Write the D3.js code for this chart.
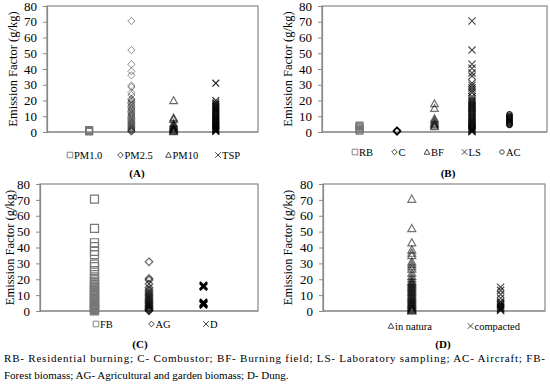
<!DOCTYPE html>
<html>
<head>
<meta charset="utf-8">
<script src="https://cdn.jsdelivr.net/npm/d3@7"></script>
<style>
  body { margin: 0; background: #fff; }
  svg { display: block; }
  text { font-family: 'Liberation Serif'; }
</style>
</head>
<body>
<svg id="chart" width="550" height="384"></svg>
<script>
// data {{{ //

const yTicks = [0, 10, 20, 30, 40, 50, 60, 70, 80];

// (A) particle size
const catsA = ["PM1.0", "PM2.5", "PM10", "TSP"];
const pm1Vals = [0.2, 0.5, 0.8, 1.1, 1.4];
const pm25Vals = [70.5, 52, 43, 38.5, 36, 29.5, 28.5, 25, 23.5, 21, 20.5, 19.6, 18.8, 18, 17.1, 16.3, 15.4, 14.6, 13.8, 13, 12.2, 11.5, 10.7, 10, 9.2, 8.6, 7.9, 7.2, 6.5, 5.9, 5.3, 4.6, 4, 3.4, 2.8, 2.3, 1.8, 1.3, 0.9, 0.5, 0.2];
const pm10Vals = [20, 9, 8, 5.5, 4.5, 3.8, 3, 2.4, 1.8, 1.2, 0.7, 0.3];
const tspVals = [31, 20, 18.5, 17.5, 16.5, 15.6, 14.8, 13.9, 13, 12.2, 11.3, 10.5, 9.7, 8.8, 8, 7.2, 6.4, 5.6, 4.9, 4.2, 3.5, 2.9, 2.3, 1.7, 1.2, 0.7, 0.3];

// (B) sampling method
const catsB = ["RB", "C", "BF", "LS", "AC"];
const rbVals = [0.8, 1.5, 2.2, 2.9, 3.6, 4.2];
const cVals = [0.3, 0.6, 0.9];
const bfVals = [18, 15, 8.5, 7.5, 6.5, 5.5, 4.8, 4, 3.4];
const lsVals = [70.5, 52, 43, 40.5, 37.5, 35.5, 31, 29.5, 28, 26.5, 25, 22.5, 21, 20, 19.2, 18.3, 17.5, 16.6, 15.8, 15, 14.1, 13.3, 12.5, 11.6, 10.8, 10, 9.2, 8.4, 7.6, 6.9, 6.1, 5.4, 4.7, 4, 3.3, 2.7, 2.1, 1.5, 1, 0.5, 0.1];
const acVals = [11.2, 10.3, 9.5, 8.8, 8, 7.2, 6.5, 5.8, 5, 4.5];

// (C) fuel type
const catsC = ["FB", "AG", "D"];
const fbVals = [70.5, 52, 43, 40.5, 37.5, 35.5, 29.5, 28, 25.5, 23, 21.5, 20, 18.8, 17.5, 16.6, 15.7, 14.8, 13.9, 13, 12.1, 11.2, 10.4, 9.6, 8.8, 8, 7.2, 6.4, 5.6, 4.9, 4.2, 3.5, 2.8, 2.2, 1.6, 1, 0.5, 0.1];
const agVals = [31, 20.5, 19.5, 17, 14.8, 13.5, 12.5, 11.5, 10.6, 9.7, 8.9, 8.1, 7.3, 6.6, 5.9, 5.2, 4.5, 3.8, 3.2, 2.6, 2, 1.4, 0.9, 0.4, 0.1];
const dVals = [16, 15.3, 5.2, 4.6, 4];

// (D) biomass state
const catsD = ["in natura", "compacted"];
const naturaVals = [70.5, 52, 43, 38.5, 36.5, 35, 31, 29.5, 28, 26.5, 24, 22, 20.5, 19, 18.2, 17.4, 16.6, 15.8, 15, 14.2, 13.4, 12.6, 11.8, 11, 10.2, 9.5, 8.7, 8, 7.3, 6.6, 5.9, 5.2, 4.5, 3.9, 3.3, 2.7, 2.1, 1.5, 1, 0.5, 0.1];
const compactedVals = [15, 13, 10.5, 8, 6, 5.2, 4.5, 3.8, 3.1, 2.5, 1.9, 1.3, 0.8, 0.3];

const captionLines = [
  "RB- Residential burning; C- Combustor; BF- Burning field; LS- Laboratory sampling; AC- Aircraft; FB-",
  "Forest biomass; AG- Agricultural and garden biomass; D- Dung."
];

// }}} data //

const FONT = "Liberation Serif";
const svg = d3.select("#chart").attr("font-family", FONT);

// marker paths {{{ //
function markerPath(shape, r) {
  const p = d3.path();
  if (shape === "square") {
    p.rect(-r, -r, 2 * r, 2 * r);
  } else if (shape === "diamond") {
    p.moveTo(0, -r); p.lineTo(r, 0); p.lineTo(0, r); p.lineTo(-r, 0); p.closePath();
  } else if (shape === "triangle") {
    p.moveTo(0, -r); p.lineTo(r, r * 0.8); p.lineTo(-r, r * 0.8); p.closePath();
  } else if (shape === "cross") {
    p.moveTo(-r, -r); p.lineTo(r, r); p.moveTo(r, -r); p.lineTo(-r, r);
  } else if (shape === "circle") {
    p.arc(0, 0, r * 0.8, 0, 2 * Math.PI);
  }
  return p.toString();
}
// }}} marker paths //

const panels = [
  {
    label: "(A)", left: 47, right: 258, top: 6, bottom: 132, xMax: 5, yLabelX: 13,
    titleX: 137, titleY: 177, legendY: 155,
    series: [
      { name: catsA[0], vals: pm1Vals, shape: "square", color: "#777", op: 1, sw: 1.2, r: 3.3, lx: 70 },
      { name: catsA[1], vals: pm25Vals, shape: "diamond", color: "#000", op: 0.45, sw: 1, r: 3.6, lx: 120.5 },
      { name: catsA[2], vals: pm10Vals, shape: "triangle", color: "#000", op: 0.6, sw: 1.2, r: 3.8, lx: 168.5 },
      { name: catsA[3], vals: tspVals, shape: "cross", color: "#000", op: 0.85, sw: 1.2, r: 3.4, lx: 218 }
    ]
  },
  {
    label: "(B)", left: 322, right: 547, top: 6, bottom: 132, xMax: 6, yLabelX: 288,
    titleX: 448, titleY: 177, legendY: 152,
    series: [
      { name: catsB[0], vals: rbVals, shape: "square", color: "#777", op: 1, sw: 1.2, r: 3.3, lx: 355 },
      { name: catsB[1], vals: cVals, shape: "diamond", color: "#000", op: 0.85, sw: 1.2, r: 3.6, lx: 394.5 },
      { name: catsB[2], vals: bfVals, shape: "triangle", color: "#000", op: 0.55, sw: 1.2, r: 3.8, lx: 427 },
      { name: catsB[3], vals: lsVals, shape: "cross", color: "#000", op: 0.7, sw: 1.2, r: 3.6, lx: 464.5 },
      { name: catsB[4], vals: acVals, shape: "circle", color: "#000", op: 0.85, sw: 1.2, r: 3.4, lx: 502 }
    ]
  },
  {
    label: "(C)", left: 40, right: 258, top: 184, bottom: 311, xMax: 4, yLabelX: 10,
    titleX: 140, titleY: 348, legendY: 324,
    series: [
      { name: catsC[0], vals: fbVals, shape: "square", color: "#777", op: 1, sw: 1.2, r: 4, lx: 96 },
      { name: catsC[1], vals: agVals, shape: "diamond", color: "#000", op: 0.6, sw: 1.2, r: 3.8, lx: 151.5 },
      { name: catsC[2], vals: dVals, shape: "cross", color: "#000", op: 1, sw: 2.2, r: 3.6, lx: 206 }
    ]
  },
  {
    label: "(D)", left: 323, right: 545, top: 184, bottom: 311, xMax: 2.5, yLabelX: 288,
    titleX: 443, titleY: 348, legendY: 326,
    series: [
      { name: catsD[0], vals: naturaVals, shape: "triangle", color: "#000", op: 0.55, sw: 1.2, r: 4, lx: 391 },
      { name: catsD[1], vals: compactedVals, shape: "cross", color: "#000", op: 0.7, sw: 1.2, r: 3.6, lx: 470.5 }
    ]
  }
];

panels.forEach(function(pn) {
  const x = d3.scaleLinear().domain([0, pn.xMax]).range([pn.left, pn.right]);
  const y = d3.scaleLinear().domain([0, 80]).range([pn.bottom, pn.top]);
  const g = svg.append("g");

  // plot frame
  g.append("rect")
    .attr("x", pn.left).attr("y", pn.top)
    .attr("width", pn.right - pn.left).attr("height", pn.bottom - pn.top)
    .attr("fill", "none").attr("stroke", "#888").attr("stroke-width", 1.2);

  // y axis
  const ax = g.append("g")
    .attr("transform", "translate(" + pn.left + ",0)")
    .call(d3.axisLeft(y).tickValues(yTicks).tickSize(4).tickPadding(6))
    .attr("font-family", FONT)
    .attr("font-size", 13);
  ax.select(".domain").attr("stroke", "#888").attr("stroke-width", 1.2);
  ax.selectAll(".tick line").attr("stroke", "#888");
  ax.selectAll(".tick text").attr("fill", "#000");

  // x baseline
  g.append("line")
    .attr("x1", pn.left).attr("x2", pn.right)
    .attr("y1", y(0)).attr("y2", y(0))
    .attr("stroke", "#888").attr("stroke-width", 1.2);

  // y label
  g.append("text")
    .attr("transform", "translate(" + pn.yLabelX + "," + ((pn.top + pn.bottom) / 2) + ") rotate(-90)")
    .attr("text-anchor", "middle").attr("dy", "0.35em")
    .attr("font-family", FONT)
    .attr("font-size", 12.5)
    .text("Emission Factor (g/kg)");

  // points
  pn.series.forEach(function(s, i) {
    const cx = x(i + 1);
    g.append("g").selectAll("path")
      .data(s.vals.slice().reverse())
      .enter().append("path")
      .attr("transform", d => "translate(" + cx + "," + y(d) + ")")
      .attr("d", markerPath(s.shape, s.r))
      .attr("fill", "none")
      .attr("stroke", s.color)
      .attr("stroke-opacity", s.op)
      .attr("stroke-width", s.sw);

    // legend entry
    g.append("path")
      .attr("transform", "translate(" + s.lx + "," + pn.legendY + ")")
      .attr("d", markerPath(s.shape, 2.8))
      .attr("fill", "none")
      .attr("stroke", s.shape === "square" ? "#777" : "#333")
      .attr("stroke-width", 0.9);
    g.append("text")
      .attr("x", s.lx + 4).attr("y", pn.legendY)
      .attr("dy", "0.35em")
      .attr("font-family", FONT)
      .attr("font-size", 10.5)
      .text(s.name);
  });

  // panel title
  g.append("text")
    .attr("x", pn.titleX).attr("y", pn.titleY)
    .attr("text-anchor", "middle")
    .attr("font-family", FONT)
    .attr("font-size", 11).attr("font-weight", "bold")
    .text(pn.label);
});

// caption {{{ //
captionLines.forEach(function(line, i) {
  const t = svg.append("text")
    .attr("x", 4).attr("y", 362 + i * 17)
    .attr("font-family", FONT)
    .attr("font-size", 11)
    .text(line);
  if (i === 0) t.attr("textLength", 541).attr("lengthAdjust", "spacing");
});
// }}} caption //
</script>
</body>
</html>
